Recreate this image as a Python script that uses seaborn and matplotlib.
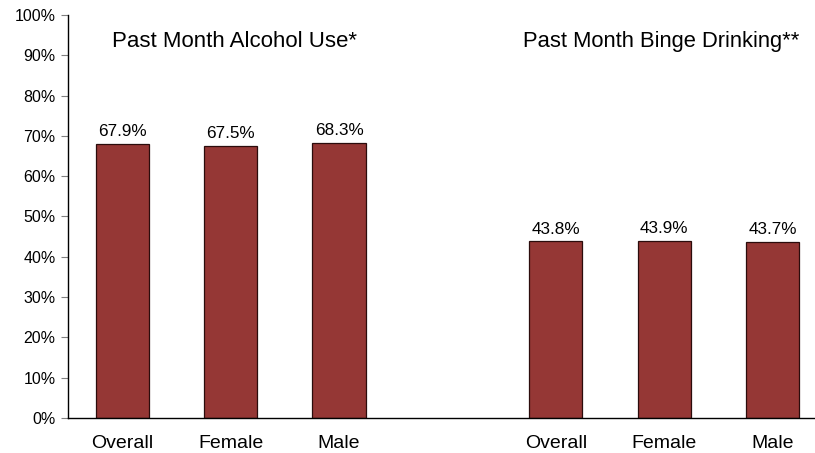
import numpy as np
import pandas as pd
import matplotlib
matplotlib.use("Agg")
import matplotlib.pyplot as plt
import matplotlib.ticker as ticker
import seaborn as sns

# -- Data ----------------------------------------------------------------------
GROUP_TITLES = ["Past Month Alcohol Use*", "Past Month Binge Drinking**"]
SUBGROUPS = ["Overall", "Female", "Male"]
ALCOHOL_USE = [67.9, 67.5, 68.3]
BINGE_DRINKING = [43.8, 43.9, 43.7]

BAR_COLOR = "#953735"
EDGE_COLOR = "#2b0c0c"

# slots 0-2 = first group, slot 3 left empty, slots 4-6 = second group
slots = [0, 1, 2, 4, 5, 6]
df = pd.DataFrame({
    "slot": slots,
    "value": ALCOHOL_USE + BINGE_DRINKING,
    "label": SUBGROUPS + SUBGROUPS,
})

sns.set_theme(style="white")
plt.rcParams["font.family"] = ["Liberation Sans", "DejaVu Sans"]
plt.rcParams["text.color"] = "black"
plt.rcParams["xtick.labelcolor"] = "black"
plt.rcParams["ytick.labelcolor"] = "black"

fig = plt.figure(figsize=(8.15, 4.53), dpi=100, facecolor="white")
ax = fig.add_axes([0.0834, 0.0773, 0.9313, 0.8896])

sns.barplot(data=df, x="slot", y="value", order=list(range(7)),
            color=BAR_COLOR, saturation=1, width=0.49,
            edgecolor=EDGE_COLOR, linewidth=0.9, ax=ax)

# value labels above bars
for bar in ax.patches:
    h = bar.get_height()
    if np.isnan(h) or h == 0:
        continue
    ax.annotate(f"{h:.1f}%", (bar.get_x() + bar.get_width() / 2, h),
                xytext=(0, 3.5), textcoords="offset points",
                ha="center", va="bottom", fontsize=12.3, color="black")

# group titles
ax.text(1.04, 93.4, GROUP_TITLES[0], ha="center", va="center", fontsize=16, color="black")
ax.text(4.97, 93.4, GROUP_TITLES[1], ha="center", va="center", fontsize=15.8, color="black")

# axes
ax.set_xlim(-0.5, 6.5)
ax.set_ylim(0, 100)
ax.yaxis.set_major_locator(ticker.MultipleLocator(10))
ax.yaxis.set_major_formatter(ticker.FuncFormatter(lambda v, p: f"{v:.0f}%"))
ax.set_xticks(range(7))
ax.set_xticklabels(SUBGROUPS + [""] + SUBGROUPS, fontsize=14)
ax.set_xticks(np.arange(-0.5, 7, 1), minor=True)
ax.tick_params(axis="x", which="major", length=0, pad=12)
ax.tick_params(axis="x", which="minor", length=5, color="#b0b0b0", width=0.8)
ax.tick_params(axis="y", which="major", length=5, color="#808080", width=0.8,
               labelsize=11.5, pad=4, left=True)
ax.set_xlabel("")
ax.set_ylabel("")

for side in ["top", "right"]:
    ax.spines[side].set_visible(False)
for side in ["left", "bottom"]:
    ax.spines[side].set_color("black")
    ax.spines[side].set_linewidth(1.0)

fig.savefig("out.png", dpi=100, facecolor="white")
